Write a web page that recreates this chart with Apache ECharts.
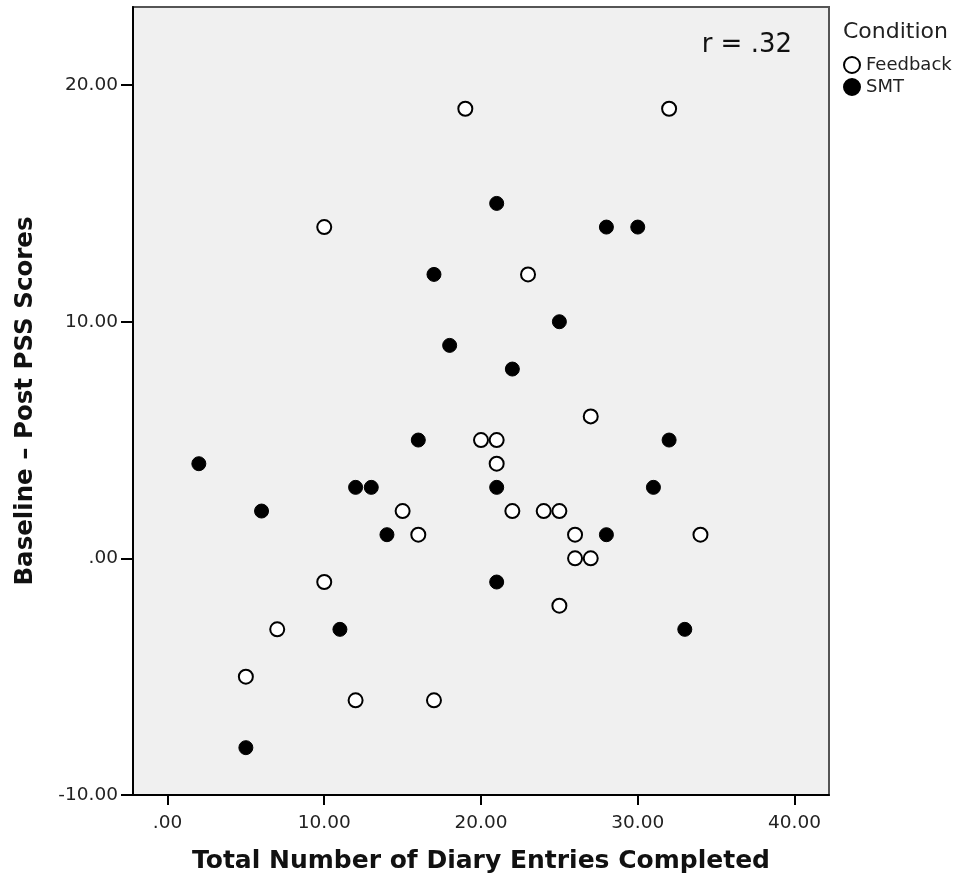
<!DOCTYPE html>
<html>
<head>
<meta charset="utf-8">
<script src="https://cdn.jsdelivr.net/npm/echarts@6/dist/echarts.min.js"></script>
<style>
  html, body { margin: 0; padding: 0; background: #fff; }
  #chart { width: 959px; height: 881px; }
</style>
</head>
<body>
<div id="chart"></div>
<script>
// Diary entries completed vs. change in PSS score, by condition
const xTicks = [0, 10, 20, 30, 40];
const yTicks = [-10, 0, 10, 20];

const feedbackX = [19, 32, 10, 23, 27, 20, 21, 21, 15, 22, 24, 25, 16, 26, 34, 26, 27, 10, 25, 7, 5, 12, 17];
const feedbackY = [19, 19, 14, 12, 6, 5, 5, 4, 2, 2, 2, 2, 1, 1, 1, 0, 0, -1, -2, -3, -5, -6, -6];

const smtX = [21, 28, 30, 17, 25, 18, 22, 16, 32, 2, 12, 13, 21, 31, 6, 14, 28, 21, 11, 33, 5];
const smtY = [15, 14, 14, 12, 10, 9, 8, 5, 5, 4, 3, 3, 3, 3, 2, 1, 1, -1, -3, -3, -8];

const rText = 'r = .32';

const FONT = '"DejaVu Sans", "Open Sans", sans-serif';

function pairs(xs, ys) { return xs.map((x, i) => [x, ys[i]]); }
function fmt(v) {
  if (v === 0) return '.00';
  return v.toFixed(2);
}

const chart = echarts.init(document.getElementById('chart'), null, { renderer: 'canvas' });

chart.setOption({
  animation: false,
  backgroundColor: '#ffffff',
  grid: {
    left: 133, top: 7, right: 130, bottom: 86,
    show: true,
    backgroundColor: '#f0f0f0',
    borderColor: '#555555',
    borderWidth: 2
  },
  xAxis: {
    type: 'value',
    min: -2.2, max: 42.2,
    splitLine: { show: false },
    axisLine: { show: true, onZero: false, lineStyle: { color: '#000', width: 2 } },
    axisTick: { show: true, length: 10, lineStyle: { color: '#000', width: 2 }, customValues: xTicks },
    axisLabel: { customValues: xTicks, formatter: fmt, color: '#222', fontSize: 18.5, fontFamily: FONT, margin: 19 },
    name: 'Total Number of Diary Entries Completed',
    nameLocation: 'middle',
    nameGap: 54,
    nameTextStyle: { fontSize: 25, fontWeight: 'bold', color: '#111', fontFamily: FONT }
  },
  yAxis: {
    type: 'value',
    min: -10, max: 23.3,
    splitLine: { show: false },
    axisLine: { show: true, onZero: false, lineStyle: { color: '#000', width: 2 } },
    axisTick: { show: true, length: 12, lineStyle: { color: '#000', width: 2 }, customValues: yTicks },
    axisLabel: { customValues: yTicks, formatter: fmt, color: '#222', fontSize: 18.5, fontFamily: FONT, margin: 15 },
    name: 'Baseline \u2013 Post PSS Scores',
    nameLocation: 'middle',
    nameGap: 95,
    nameTextStyle: { fontSize: 24.5, fontWeight: 'bold', color: '#111', fontFamily: FONT }
  },
  legend: {
    orient: 'vertical',
    left: 843, top: 56,
    padding: 0,
    itemWidth: 16, itemHeight: 16,
    itemGap: 4,
    icon: 'circle',
    textStyle: { fontSize: 18, color: '#222', fontFamily: FONT, padding: [0, 0, 0, 1] },
    data: ['Feedback', 'SMT']
  },
  graphic: [
    {
      type: 'text', left: 843, top: 21,
      style: { text: 'Condition', fontSize: 22, fill: '#222', fontFamily: FONT }
    },
    {
      type: 'text', right: 167, top: 32,
      style: { text: rText, fontSize: 26, fill: '#111', fontFamily: FONT }
    }
  ],
  series: [
    {
      name: 'Feedback',
      type: 'scatter',
      symbol: 'circle',
      symbolSize: 14,
      itemStyle: { color: '#ffffff', borderColor: '#000000', borderWidth: 2, opacity: 1 },
      data: pairs(feedbackX, feedbackY)
    },
    {
      name: 'SMT',
      type: 'scatter',
      symbol: 'circle',
      symbolSize: 14,
      itemStyle: { color: '#000000', borderColor: '#000000', borderWidth: 1, opacity: 1 },
      data: pairs(smtX, smtY)
    }
  ]
});
</script>
</body>
</html>
